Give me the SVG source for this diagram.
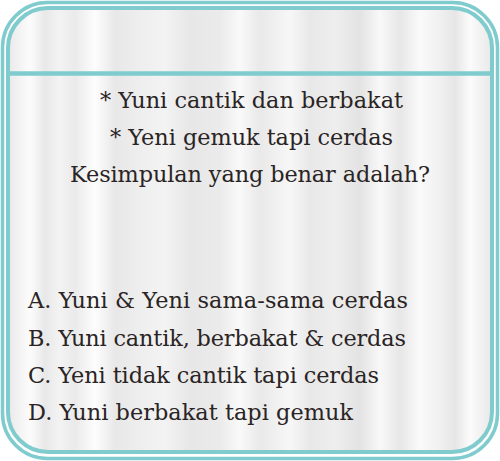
<svg xmlns="http://www.w3.org/2000/svg" width="500" height="461" viewBox="0 0 500 461">
  <defs>
    <linearGradient id="curtain" x1="0" y1="0" x2="500" y2="0" gradientUnits="userSpaceOnUse">
      <stop offset="0.02" stop-color="#ebebeb"/>
      <stop offset="0.06" stop-color="#fcfcfc"/>
      <stop offset="0.09" stop-color="#e8e8e8"/>
      <stop offset="0.12" stop-color="#f3f3f3"/>
      <stop offset="0.15" stop-color="#eaeaea"/>
      <stop offset="0.19" stop-color="#fdfdfd"/>
      <stop offset="0.23" stop-color="#e8e8e8"/>
      <stop offset="0.28" stop-color="#eeeeee"/>
      <stop offset="0.33" stop-color="#f3f3f3"/>
      <stop offset="0.38" stop-color="#e7e7e7"/>
      <stop offset="0.44" stop-color="#ebebeb"/>
      <stop offset="0.48" stop-color="#f9f9f9"/>
      <stop offset="0.52" stop-color="#e9e9e9"/>
      <stop offset="0.58" stop-color="#f7f7f7"/>
      <stop offset="0.62" stop-color="#e8e8e8"/>
      <stop offset="0.67" stop-color="#eeeeee"/>
      <stop offset="0.72" stop-color="#e3e3e3"/>
      <stop offset="0.76" stop-color="#f8f8f8"/>
      <stop offset="0.80" stop-color="#e7e7e7"/>
      <stop offset="0.84" stop-color="#fafafa"/>
      <stop offset="0.88" stop-color="#f0f0f0"/>
      <stop offset="0.91" stop-color="#e6e6e6"/>
      <stop offset="0.94" stop-color="#fbfbfb"/>
      <stop offset="0.98" stop-color="#eaeaea"/>
    </linearGradient>
    <clipPath id="inner">
      <rect x="8" y="8" width="484" height="444" rx="40" ry="40"/>
    </clipPath>
  </defs>
  <style>
    .frame { fill: none; stroke: #7fcbcd; }
    .q { font-family: "DejaVu Serif", "Liberation Serif", serif; font-size: 22.4px; fill: #2a2424; }
  </style>
  <rect x="0" y="0" width="500" height="461" fill="#ffffff"/>
  <g id="card">
    <rect x="8" y="8" width="484" height="444" fill="url(#curtain)" clip-path="url(#inner)"/>
    <rect class="frame" x="2.5" y="2.5" width="495" height="456" rx="45" ry="45" stroke-width="3.5"/>
    <rect class="frame" x="8" y="8" width="484" height="444" rx="40" ry="40" stroke-width="4"/>
    <line class="frame" x1="8" y1="73.5" x2="492" y2="73.5" stroke-width="4.5"/>
  </g>
  <g id="question">
    <text class="q" x="100" y="108" textLength="303" lengthAdjust="spacing">* Yuni cantik dan berbakat</text>
    <text class="q" x="110" y="145" textLength="283" lengthAdjust="spacing">* Yeni gemuk tapi cerdas</text>
    <text class="q" x="70" y="182" textLength="360" lengthAdjust="spacing">Kesimpulan yang benar adalah?</text>
  </g>
  <g id="options">
    <text class="q" x="28" y="308" textLength="380" lengthAdjust="spacing">A. Yuni &amp; Yeni sama-sama cerdas</text>
    <text class="q" x="28" y="346" textLength="378" lengthAdjust="spacing">B. Yuni cantik, berbakat &amp; cerdas</text>
    <text class="q" x="28" y="383" textLength="351" lengthAdjust="spacing">C. Yeni tidak cantik tapi cerdas</text>
    <text class="q" x="28" y="420" textLength="325" lengthAdjust="spacing">D. Yuni berbakat tapi gemuk</text>
  </g>
</svg>
